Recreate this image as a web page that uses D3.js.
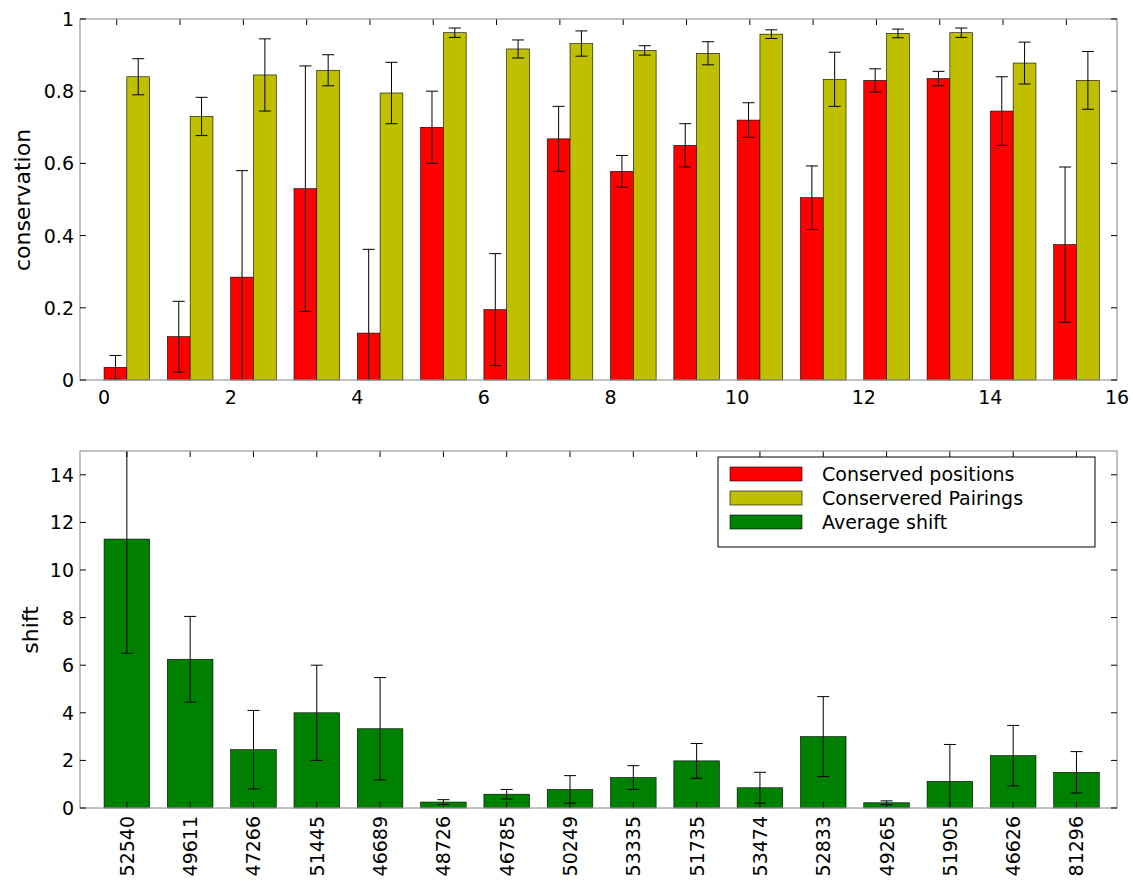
<!DOCTYPE html><html><head><script src="https://cdn.jsdelivr.net/npm/d3@7"></script>
<style>body{margin:0;background:#fff}text{font-family:"DejaVu Sans";}</style></head><body><svg id="c" width="1133" height="884"></svg>
<script>
const positions=[0.035,0.12,0.285,0.53,0.13,0.70,0.195,0.668,0.578,0.65,0.72,0.505,0.83,0.835,0.745,0.375];
const positionsErr=[0.033,0.098,0.295,0.34,0.232,0.10,0.155,0.09,0.044,0.06,0.048,0.088,0.032,0.02,0.095,0.215];
const pairings=[0.84,0.73,0.845,0.858,0.795,0.962,0.917,0.932,0.913,0.905,0.958,0.833,0.96,0.962,0.878,0.83];
const pairingsErr=[0.05,0.053,0.1,0.043,0.085,0.013,0.025,0.035,0.013,0.032,0.012,0.075,0.012,0.013,0.058,0.08];
const shift=[11.3,6.25,2.45,4.0,3.33,0.25,0.58,0.78,1.28,1.98,0.85,3.0,0.22,1.12,2.2,1.5];
const shiftErr=[4.8,1.8,1.65,2.0,2.15,0.1,0.2,0.58,0.5,0.73,0.65,1.68,0.08,1.55,1.27,0.87];
const ids=["52540","49611","47266","51445","46689","48726","46785","50249","53335","51735","53474","52833","49265","51905","46626","81296"];
const topTicks=[0,0.2,0.4,0.6,0.8,1];const topLabels=["0","0.2","0.4","0.6","0.8","1"];
const xTicks=[0,2,4,6,8,10,12,14,16];
const botTicks=[0,2,4,6,8,10,12,14];
const legend=[["Conserved positions","#ff0000"],["Conservered Pairings","#bfbf00"],["Average shift","#008000"]];
const svg=d3.select("#c");
const x=d3.scaleLinear().domain([-0.38,16]).range([80,1117]);
const y1=d3.scaleLinear().domain([0,1]).range([380,19]);
const y2=d3.scaleLinear().domain([0,15]).range([808,451]);
const W=0.36;
function frame(y,top,bot){
 svg.append("rect").attr("x",80).attr("y",top).attr("width",1037).attr("height",bot-top).attr("fill","none").attr("stroke","#999").attr("stroke-width",1.2);
}
function yaxis(y,ticks,labels){
 ticks.forEach((t,i)=>{
  svg.append("line").attr("x1",80).attr("x2",86).attr("y1",y(t)).attr("y2",y(t)).attr("stroke","#000");
  svg.append("line").attr("x1",1111).attr("x2",1117).attr("y1",y(t)).attr("y2",y(t)).attr("stroke","#000");
  svg.append("text").attr("x",74).attr("y",y(t)+7).attr("text-anchor","end").attr("font-size",19).text(labels[i]);
 });
}
function err(g,cx,y,v,e,lo){
 const a=y(Math.max(y.domain()[0],v-e)),b=y(Math.min(y.domain()[1],v+e));
 g.append("line").attr("x1",cx).attr("x2",cx).attr("y1",a).attr("y2",b).attr("stroke","#000").attr("stroke-width",1);
 [[v-e,a],[v+e,b]].forEach(([val,p])=>{ if(val>=y.domain()[0]&&val<=y.domain()[1]) g.append("line").attr("x1",cx-6).attr("x2",cx+6).attr("y1",p).attr("y2",p).attr("stroke","#000");});
}
// top
const g1=svg.append("g");
positions.forEach((v,i)=>{
 g1.append("rect").attr("x",x(i)).attr("width",x(i+W)-x(i)).attr("y",y1(v)).attr("height",y1(0)-y1(v)).attr("fill","#ff0000").attr("stroke","#000").attr("stroke-width",0.6);
 g1.append("rect").attr("x",x(i+W)).attr("width",x(i+2*W)-x(i+W)).attr("y",y1(pairings[i])).attr("height",y1(0)-y1(pairings[i])).attr("fill","#bfbf00").attr("stroke","#000").attr("stroke-width",0.6);
 err(g1,x(i+W/2),y1,v,positionsErr[i]);
 err(g1,x(i+1.5*W),y1,pairings[i],pairingsErr[i]);
 g1.append("line").attr("x1",x(i+0.2)).attr("x2",x(i+0.2)).attr("y1",19).attr("y2",25).attr("stroke","#000");
});
frame(y1,19,380);
yaxis(y1,topTicks,topLabels);
xTicks.forEach(t=>svg.append("text").attr("x",x(t)).attr("y",404).attr("text-anchor","middle").attr("font-size",19).text(t));
svg.append("text").attr("transform","translate(30,200) rotate(-90)").attr("text-anchor","middle").attr("font-size",22).text("conservation");
// bottom
const g2=svg.append("g");
shift.forEach((v,i)=>{
 g2.append("rect").attr("x",x(i)).attr("width",x(i+2*W)-x(i)).attr("y",y2(v)).attr("height",y2(0)-y2(v)).attr("fill","#008000").attr("stroke","#000").attr("stroke-width",0.6);
 err(g2,x(i+W),y2,v,shiftErr[i]);
 g2.append("line").attr("x1",x(i+W)).attr("x2",x(i+W)).attr("y1",451).attr("y2",457).attr("stroke","#000");
 g2.append("line").attr("x1",x(i+W)).attr("x2",x(i+W)).attr("y1",808).attr("y2",802).attr("stroke","#000");
 svg.append("text").attr("transform",`translate(${x(i+W)+7},816) rotate(-90)`).attr("text-anchor","end").attr("font-size",19).text(ids[i]);
});
frame(y2,451,808);
yaxis(y2,botTicks,botTicks.map(String));
svg.append("text").attr("transform","translate(38,630) rotate(-90)").attr("text-anchor","middle").attr("font-size",22).text("shift");
const lg=svg.append("g");
lg.append("rect").attr("x",718).attr("y",457).attr("width",377).attr("height",90).attr("fill","#fff").attr("stroke","#000");
legend.forEach(([t,c],i)=>{
 lg.append("rect").attr("x",730).attr("y",467+i*24).attr("width",72).attr("height",14).attr("fill",c).attr("stroke","#000").attr("stroke-width",0.6);
 lg.append("text").attr("x",822).attr("y",481+i*24).attr("font-size",19).text(t);
});
</script></body></html>
